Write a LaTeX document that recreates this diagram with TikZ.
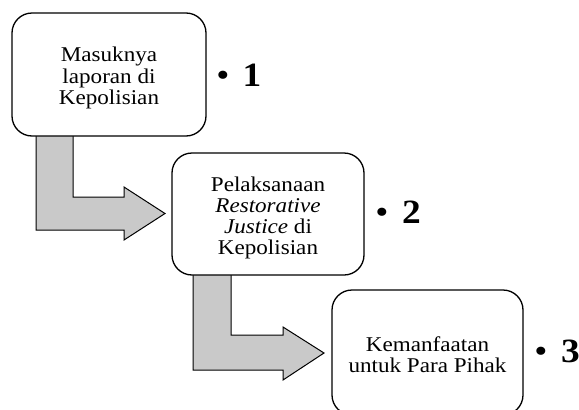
\documentclass[tikz,border=0pt]{standalone}
\usepackage{fontspec}
\setmainfont[FakeStretch=1.1]{Liberation Serif}
\begin{document}
\begin{tikzpicture}[x=1pt,y=-1pt,
  box/.style={draw=black,line width=1.3pt,rounded corners=20pt,fill=white,
    align=center,inner sep=0pt},
  boxtext/.style={align=center,inner sep=0pt,font=\fontsize{21}{#1}\selectfont},
  blockarrow/.style={draw=black,line width=1pt,fill=gray!42,line join=miter},
  bul/.style={font=\fontsize{34}{34}\selectfont,anchor=base,inner sep=0pt},
  num/.style={font=\fontsize{34}{34}\selectfont\bfseries,anchor=base west,inner sep=0pt}]
\useasboundingbox (0,0) rectangle (579,410);
% block arrows
\draw[blockarrow] (36,134) -- (73,134) -- (73,197) -- (124,197) -- (124,187)
  -- (165,213.5) -- (124,240) -- (124,230) -- (36,230) -- cycle;
\draw[blockarrow] (193,273) -- (231,273) -- (231,335) -- (283,335) -- (283,327)
  -- (324,353) -- (283,380) -- (283,370) -- (193,370) -- cycle;
% boxes
\node[box,minimum width=194pt,minimum height=123pt] (b1) at (109,74.5) {};
\node[boxtext=21.5] (t1) at (109,78) {Masuknya\\laporan di\\Kepolisian};
\node[box,minimum width=192pt,minimum height=122pt] (b2) at (268,214) {};
\node[boxtext=21] (t2) at (268,218)
  {Pelaksanaan\\\textit{Restorative}\\\textit{Justice} di\\Kepolisian};
\node[box,minimum width=191pt,minimum height=125pt] (b3) at (427.5,352.5) {};
\node[boxtext=21] (t3) at (427.5,354.5) {Kemanfaatan\\untuk Para Pihak};
% numbering
\node[bul] (d1) at (223,86) {\textbullet};
\node[num] (n1) at (242.5,86) {1};
\node[bul] (d2) at (382,223) {\textbullet};
\node[num] (n2) at (402,223) {2};
\node[bul] (d3) at (541,362) {\textbullet};
\node[num] (n3) at (561,362) {3};
\end{tikzpicture}
\end{document}
